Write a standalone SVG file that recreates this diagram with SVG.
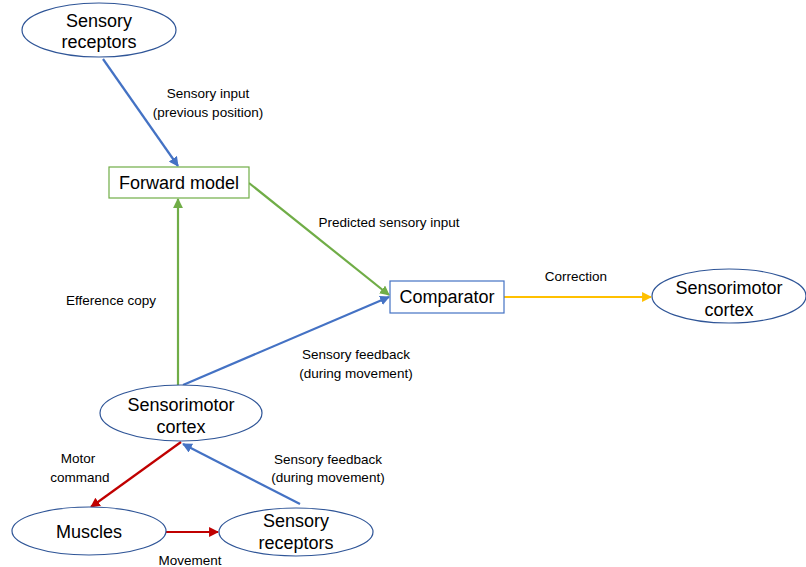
<svg xmlns="http://www.w3.org/2000/svg" width="806" height="567" viewBox="0 0 806 567">
<defs>
<style>
.node{fill:#fff;stroke:#2F5597;stroke-width:1.2}
.big{font-family:"Liberation Sans",Arial,sans-serif;font-size:18px;fill:#000;text-anchor:middle}
.lbl{font-family:"Liberation Sans",Arial,sans-serif;font-size:13.5px;fill:#000;text-anchor:middle}
.c{fill:none;stroke-width:2.2}
</style>
<marker id="ab" viewBox="0 0 10 10" refX="9" refY="5" markerWidth="4.5" markerHeight="4.5" orient="auto"><path d="M0,0L10,5L0,10z" fill="#4472C4"/></marker>
<marker id="ag" viewBox="0 0 10 10" refX="9" refY="5" markerWidth="4.5" markerHeight="4.5" orient="auto"><path d="M0,0L10,5L0,10z" fill="#70AD47"/></marker>
<marker id="ar" viewBox="0 0 10 10" refX="9" refY="5" markerWidth="4.5" markerHeight="4.5" orient="auto"><path d="M0,0L10,5L0,10z" fill="#C00000"/></marker>
<marker id="ay" viewBox="0 0 10 10" refX="9" refY="5" markerWidth="4.5" markerHeight="4.5" orient="auto"><path d="M0,0L10,5L0,10z" fill="#FFC000"/></marker>
</defs>
<rect width="806" height="567" fill="#fff"/>
<g id="connectors">
<line class="c" x1="103" y1="59" x2="178" y2="166" stroke="#4472C4" marker-end="url(#ab)"/>
<line class="c" x1="249" y1="183" x2="389" y2="295" stroke="#70AD47" marker-end="url(#ag)"/>
<line class="c" x1="178" y1="385" x2="178" y2="199" stroke="#70AD47" marker-end="url(#ag)"/>
<line class="c" x1="183" y1="385" x2="389" y2="297" stroke="#4472C4" marker-end="url(#ab)"/>
<line class="c" x1="504" y1="297" x2="651" y2="297" stroke="#FFC000" marker-end="url(#ay)"/>
<line class="c" x1="181" y1="442" x2="91" y2="507" stroke="#C00000" marker-end="url(#ar)"/>
<line class="c" x1="166" y1="532" x2="218" y2="532" stroke="#C00000" marker-end="url(#ar)"/>
<line class="c" x1="300" y1="504" x2="183" y2="444" stroke="#4472C4" marker-end="url(#ab)"/>
<text class="lbl" x="208" y="98">Sensory input</text>
<text class="lbl" x="208" y="117">(previous position)</text>
<text class="lbl" x="389" y="227">Predicted sensory input</text>
<text class="lbl" x="111" y="305">Efference copy</text>
<text class="lbl" x="576" y="281">Correction</text>
<text class="lbl" x="356" y="359">Sensory feedback</text>
<text class="lbl" x="356" y="378">(during movement)</text>
<text class="lbl" x="78" y="463">Motor</text>
<text class="lbl" x="80" y="482">command</text>
<text class="lbl" x="328" y="464">Sensory feedback</text>
<text class="lbl" x="328" y="482">(during movement)</text>
<text class="lbl" x="190" y="565">Movement</text>
</g>
<g id="sensory-receptors-top">
<ellipse class="node" cx="99" cy="30" rx="77" ry="27"/>
<text class="big" x="99" y="27">Sensory</text>
<text class="big" x="99" y="48">receptors</text>
</g>
<g id="forward-model">
<rect x="109" y="167" width="140" height="31" fill="#fff" stroke="#70AD47" stroke-width="1.2"/>
<text class="big" x="179" y="189">Forward model</text>
</g>
<g id="comparator">
<rect x="390" y="281" width="114" height="32" fill="#fff" stroke="#4472C4" stroke-width="1.2"/>
<text class="big" x="447" y="303">Comparator</text>
</g>
<g id="sensorimotor-cortex-right">
<ellipse class="node" cx="729" cy="296" rx="77" ry="27"/>
<text class="big" x="729" y="294">Sensorimotor</text>
<text class="big" x="729" y="316">cortex</text>
</g>
<g id="sensorimotor-cortex">
<ellipse class="node" cx="181" cy="413" rx="81" ry="28"/>
<text class="big" x="181" y="411">Sensorimotor</text>
<text class="big" x="181" y="433">cortex</text>
</g>
<g id="muscles">
<ellipse class="node" cx="89" cy="531" rx="77" ry="24"/>
<text class="big" x="89" y="538">Muscles</text>
</g>
<g id="sensory-receptors-bottom">
<ellipse class="node" cx="296" cy="532" rx="77" ry="24"/>
<text class="big" x="296" y="527">Sensory</text>
<text class="big" x="296" y="549">receptors</text>
</g>
</svg>
